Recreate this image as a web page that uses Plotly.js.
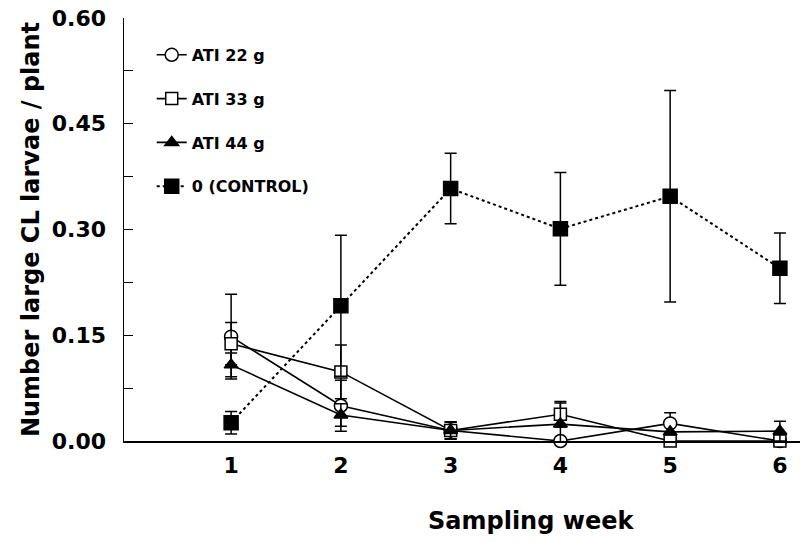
<!DOCTYPE html>
<html>
<head>
<meta charset="utf-8">
<script src="https://cdn.plot.ly/plotly-3.0.1.min.js"></script>
<style>html,body{margin:0;padding:0;background:#fff;}#chart{width:800px;height:542px;}</style>
</head>
<body>
<div id="chart"></div>
<script>
const weeks = [1, 2, 3, 4, 5, 6];
const ati22 = [0.148, 0.050, 0.015, 0.000, 0.025, 0.000];
const ati22Err = [0.060, 0.036, 0.012, 0.000, 0.015, 0.000];
const ati33 = [0.138, 0.098, 0.015, 0.038, 0.000, 0.000];
const ati33Err = [0.030, 0.038, 0.012, 0.018, 0.000, 0.000];
const ati44 = [0.108, 0.037, 0.015, 0.024, 0.013, 0.014];
const ati44Err = [0.017, 0.016, 0.012, 0.030, 0.000, 0.014];
const control = [0.026, 0.192, 0.358, 0.301, 0.347, 0.245];
const controlErr = [0.016, 0.100, 0.050, 0.080, 0.150, 0.050];
const seriesNames = ['ATI 22 g', 'ATI 33 g', 'ATI 44 g', '0 (CONTROL)'];
const yTicks = [0, 0.15, 0.30, 0.45, 0.60];
const yTickText = ['0.00', '0.15', '0.30', '0.45', '0.60'];
const xTitle = 'Sampling week';
const yTitle = 'Number large CL larvae / plant';

const FONT = 'DejaVu Sans, Verdana, sans-serif';
function errBar(arr) {
  return {type: 'data', array: arr, visible: true, color: '#000', thickness: 1.5, width: 6};
}
function trace(name, y, err, symbol, size, fill, dash, group) {
  return {
    x: weeks, y: y, name: name, type: 'scatter', mode: 'lines+markers',
    legendgroup: group,
    line: {color: '#000', width: dash === 'solid' ? 1.6 : 2, dash: dash},
    marker: {symbol: symbol, size: size, color: fill, line: {color: '#000', width: 1.5}},
    error_y: errBar(err), cliponaxis: false
  };
}
const data = [
  trace(seriesNames[0], ati22, ati22Err, 'circle', 13, '#fff', 'solid', 'g1'),
  trace(seriesNames[1], ati33, ati33Err, 'square', 12, '#fff', 'solid', 'g2'),
  trace(seriesNames[2], ati44, ati44Err, 'triangle-up', 12, '#000', 'solid', 'g3'),
  trace(seriesNames[3], control, controlErr, 'square', 14, '#000', 'dot', 'g4')
];

const layout = {
  width: 800, height: 542,
  margin: {l: 124, r: 0, t: 18, b: 101},
  paper_bgcolor: '#fff', plot_bgcolor: '#fff',
  font: {family: FONT, color: '#000'},
  showlegend: true,
  legend: {x: 0.041, y: 0.953, xanchor: 'left', yanchor: 'top',
           font: {family: FONT, size: 16, weight: 'bold', color: '#000'},
           bgcolor: 'rgba(0,0,0,0)', traceorder: 'grouped', tracegroupgap: 20,
           itemwidth: 30},
  xaxis: {
    range: [0.024, 6.183], tickvals: weeks, ticktext: weeks.map(String),
    ticks: '', showgrid: false, zeroline: false,
    showline: true, linecolor: '#000', linewidth: 1.5,
    tickfont: {family: FONT, size: 22, weight: 'bold'},
    ticklabelstandoff: 4
  },
  yaxis: {
    range: [0, 0.6], tickvals: yTicks, ticktext: yTickText,
    ticks: 'inside', ticklen: 9, tickwidth: 1, tickcolor: '#000',
    minor: {dtick: 0.075, tick0: 0, ticks: 'inside', ticklen: 9, tickwidth: 1, tickcolor: '#000'},
    showgrid: false, zeroline: false,
    showline: true, linecolor: '#000', linewidth: 1.5,
    tickfont: {family: FONT, size: 22, weight: 'bold'},
    ticklabelstandoff: 12,
    title: {text: yTitle, font: {family: FONT, size: 24, weight: 'bold'}, standoff: 5}
  },
  annotations: [{
    text: xTitle, xref: 'paper', yref: 'paper', x: 0.602, y: -0.189,
    xanchor: 'center', yanchor: 'middle', showarrow: false,
    font: {family: FONT, size: 24, weight: 'bold', color: '#000'}
  }]
};
Plotly.newPlot('chart', data, layout, {displayModeBar: false, staticPlot: true});
</script>
</body>
</html>
